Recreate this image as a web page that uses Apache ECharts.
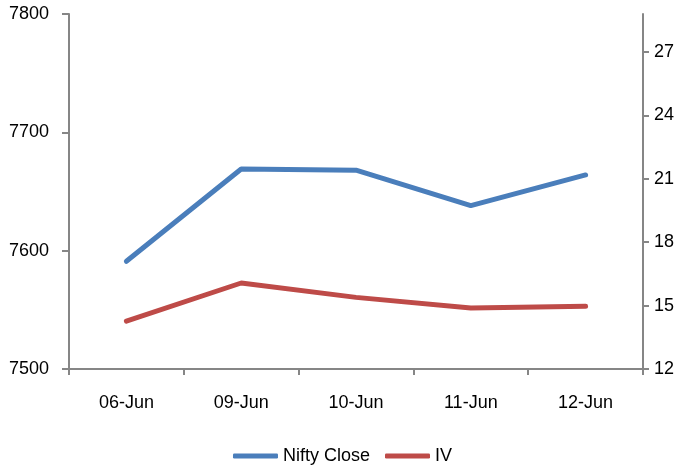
<!DOCTYPE html>
<html><head><meta charset="utf-8">
<script src="https://cdn.jsdelivr.net/npm/echarts@6/dist/echarts.min.js"></script>
<style>html,body{margin:0;padding:0;background:#fff}#c{width:685px;height:470px}</style>
</head><body><div id="c"></div>
<script>
const categories = ['06-Jun','09-Jun','10-Jun','11-Jun','12-Jun'];
const niftyClose = [7591, 7669, 7668, 7638, 7664];
const iv = [14.26, 16.07, 15.39, 14.89, 14.97];
const leftTicks = [7500, 7600, 7700, 7800];
const rightTicks = [12, 15, 18, 21, 24, 27];

const FONT = "'Liberation Sans',Arial,sans-serif";
const axisColor = '#868686';
const chart = echarts.init(document.getElementById('c'));
chart.setOption({
  animation: false,
  textStyle: {fontFamily: FONT},
  grid: {left: 69, right: 42, top: 14, bottom: 101, containLabel: false},
  legend: {
    bottom: 0, left: 'center', itemWidth: 45, itemHeight: 5, itemGap: 15,
    icon: 'roundRect',
    textStyle: {fontFamily: FONT, fontSize: 18, color: '#000'},
    data: ['Nifty Close', 'IV']
  },
  xAxis: {
    type: 'category', data: categories, boundaryGap: true,
    axisLine: {lineStyle: {color: axisColor, width: 2}},
    axisTick: {show: true, interval: 0, length: 6, lineStyle: {color: axisColor, width: 2}},
    axisLabel: {interval: 0, margin: 25, fontSize: 18, color: '#000', fontFamily: FONT}
  },
  yAxis: [{
    type: 'value', min: 7500, max: 7800, interval: 100, position: 'left',
    axisLine: {show: true, lineStyle: {color: axisColor, width: 2}},
    axisTick: {show: true, length: 7, lineStyle: {color: axisColor, width: 2}, customValues: leftTicks},
    axisLabel: {margin: 20, fontSize: 18, color: '#000', fontFamily: FONT, customValues: leftTicks,
      formatter: v => String(v)},
    splitLine: {show: false}
  }, {
    type: 'value', min: 12, max: 28.8, interval: 3, position: 'right',
    axisLine: {show: true, lineStyle: {color: axisColor, width: 2}},
    axisTick: {show: true, length: 6, lineStyle: {color: axisColor, width: 2}, customValues: rightTicks},
    axisLabel: {margin: 11, fontSize: 18, color: '#000', fontFamily: FONT, customValues: rightTicks,
      formatter: v => String(v)},
    splitLine: {show: false}
  }],
  series: [{
    name: 'Nifty Close', type: 'line', yAxisIndex: 0, data: niftyClose,
    symbol: 'none', color: '#4A7EBB', lineStyle: {width: 5, color: '#4A7EBB', cap: 'round'}
  }, {
    name: 'IV', type: 'line', yAxisIndex: 1, data: iv,
    symbol: 'none', color: '#BE4B48', lineStyle: {width: 5, color: '#BE4B48', cap: 'round'}
  }]
});
</script></body></html>
